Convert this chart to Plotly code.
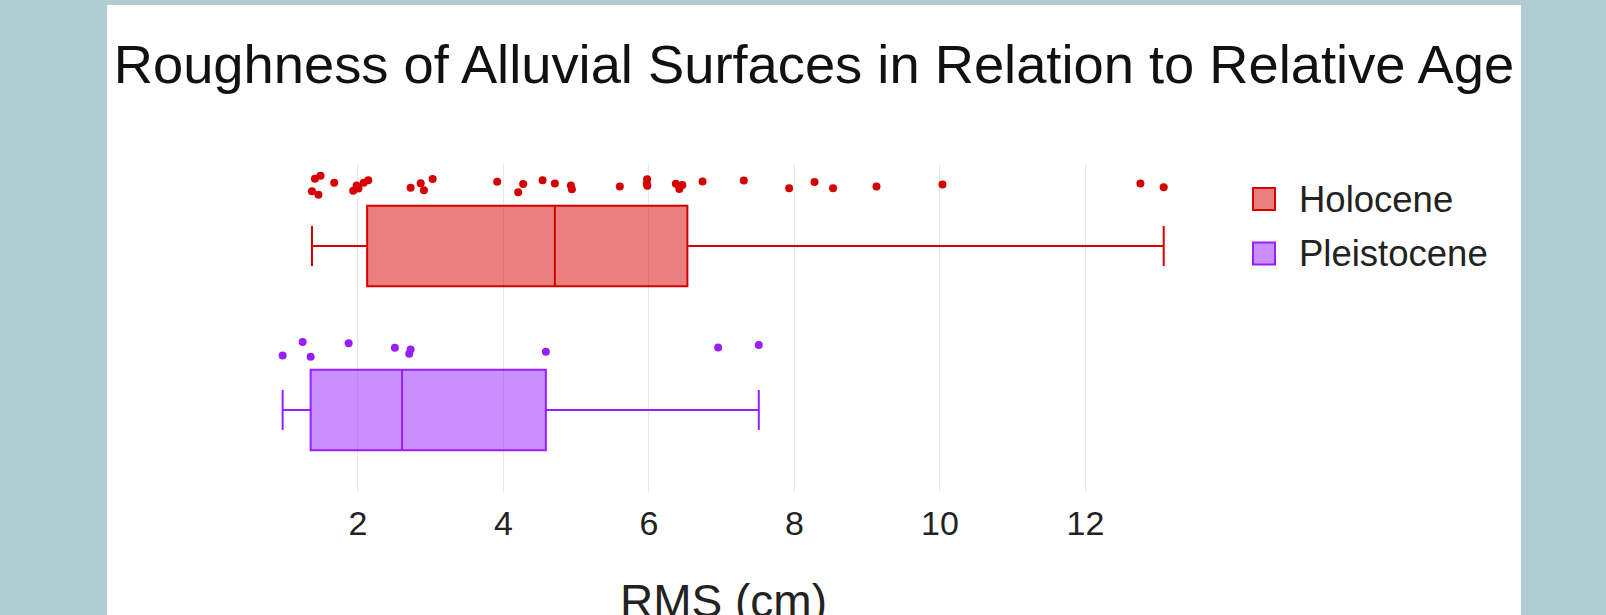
import plotly.graph_objects as go

# ---- data ----
groups = ["Holocene", "Pleistocene"]
holocene_rms = [1.368, 1.409, 1.457, 1.486, 1.674, 1.935, 1.982, 2.007, 2.08, 2.142,
                2.724, 2.862, 2.907, 3.027, 3.914, 4.203, 4.271, 4.538, 4.707,
                4.927, 4.941, 5.600, 5.971, 5.975, 5.978, 6.370, 6.418, 6.459,
                6.737, 7.304, 7.927, 8.276, 8.531, 9.128, 10.035, 12.756, 13.076]
pleistocene_rms = [0.965, 1.240, 1.350, 1.872, 2.508, 2.705, 2.724, 4.583, 6.951, 7.510]
tick_vals = [2, 4, 6, 8, 10, 12]
title_text = "Roughness of Alluvial Surfaces in Relation to Relative Age"
x_title = "RMS (cm)"

# ---- styling ----
line_colors = ["rgb(213,0,0)", "rgb(152,30,255)"]
fill_colors = ["rgba(213,0,0,0.5)", "rgba(152,30,255,0.5)"]
FONT = "Liberation Sans, Arial, sans-serif"
W, H = 1414, 700
L, R, T, B = 160, 341, 159, 213
PW, PH = W - L - R, H - T - B


def px(x):
    return (x - L) / PW


def py(y):
    return (T + PH - y) / PH


fig = go.Figure()
for name, vals, lc, fc in zip(groups, [holocene_rms, pleistocene_rms], line_colors, fill_colors):
    fig.add_trace(go.Box(
        x=vals, y=[name] * len(vals), name=name, orientation="h",
        boxpoints="all", jitter=0.3, pointpos=-1.5,
        line=dict(color=lc, width=2), fillcolor=fc,
        marker=dict(color=lc, size=8),
        showlegend=False,
    ))

# custom legend (bigger symbols, like the reference)
shapes = []
annotations = []
leg_y = [194, 248.5]
for i, name in enumerate(groups):
    cy = leg_y[i]
    shapes.append(dict(type="rect", xref="paper", yref="paper",
                       x0=px(1146), x1=px(1168), y0=py(cy + 11), y1=py(cy - 11),
                       line=dict(color=line_colors[i], width=2), fillcolor=fill_colors[i]))
    annotations.append(dict(text=name, xref="paper", yref="paper", x=px(1190), y=py(cy),
                            xanchor="left", yanchor="middle", showarrow=False,
                            font=dict(size=36.5, color="#222222", family=FONT)))

fig.update_layout(
    width=W, height=H,
    margin=dict(l=L, r=R, t=T, b=B, pad=0),
    paper_bgcolor="white", plot_bgcolor="white",
    font=dict(family=FONT, color="#222222"),
    title=dict(text=title_text, x=0.5, xanchor="center", xref="container",
               y=1 - 40.2 / H, yanchor="top", yref="container",
               font=dict(size=54.3, color="#111111", family=FONT)),
    xaxis=dict(range=[0.75, 13.3], tickvals=tick_vals, showgrid=True, gridcolor="#e8e8e8",
               gridwidth=1, zeroline=False, showline=False, ticks="",
               ticklabelstandoff=8,
               tickfont=dict(size=34, color="#222222"),
               title=dict(text=x_title, font=dict(size=46, color="#222222"), standoff=43)),
    yaxis=dict(range=[1.5, -0.5], showticklabels=False, showgrid=False, zeroline=False,
               showline=False, ticks=""),
    shapes=shapes, annotations=annotations,
)

fig.write_html("out.html", post_script=(
    "document.body.style.margin='5px 0 0 107px';"
    "document.body.style.background='#b2ccd4';"
    "document.body.style.overflow='hidden';"
    "document.documentElement.style.background='#b2ccd4';"
))
